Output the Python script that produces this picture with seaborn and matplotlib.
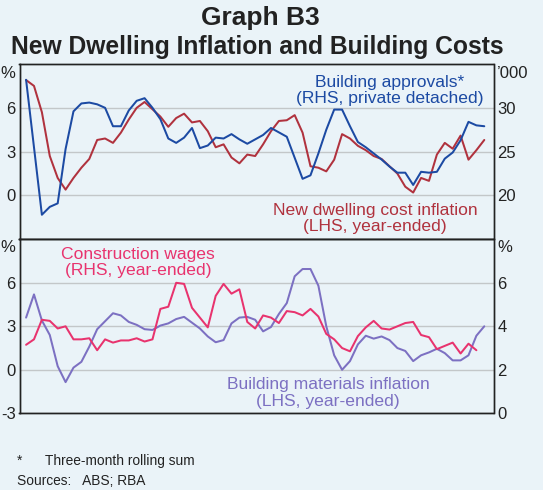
import numpy as np
import pandas as pd
import matplotlib
matplotlib.use("Agg")
import matplotlib.pyplot as plt
import seaborn as sns

# ---- data (quarterly, 2000Q1 to 2014Q3) ----
quarters = pd.period_range("2000Q1", "2014Q3", freq="Q")
# position each quarter at the middle of its final month
t = np.array([p.year + (3 * p.quarter - 0.5) / 12 for p in quarters])

# New dwelling cost inflation, % year-ended (LHS)
dwelling_cost = [7.9, 7.5, 5.7, 2.7, 1.2, 0.4, 1.2, 1.9, 2.5, 3.8,
                 3.9, 3.6, 4.3, 5.2, 6.0, 6.4, 5.9, 5.4, 4.7, 5.3,
                 5.6, 5.0, 5.1, 4.4, 3.3, 3.5, 2.6, 2.2, 2.8, 2.7,
                 3.5, 4.4, 5.1, 5.15, 5.5, 4.3, 2.0, 1.9, 1.65, 2.45,
                 4.2, 3.9, 3.4, 3.1, 2.7, 2.5, 2.0, 1.5, 0.6, 0.2,
                 1.2, 1.0, 2.8, 3.6, 3.2, 4.1, 2.45, 3.1, 3.8]

# Private detached building approvals, '000, three-month rolling sum (RHS)
approvals = [33.2, 25.5, 17.8, 18.7, 19.1, 25.3, 29.6, 30.5, 30.6, 30.4,
             30.0, 27.9, 27.9, 29.7, 30.8, 31.1, 30.0, 28.7, 26.5, 26.0,
             26.6, 27.7, 25.4, 25.7, 26.6, 26.5, 27.0, 26.4, 25.9, 26.4,
             26.9, 27.7, 27.2, 26.7, 24.3, 21.9, 22.3, 24.8, 27.5, 29.8,
             29.8, 27.9, 26.1, 25.5, 24.8, 24.1, 23.3, 22.6, 22.6, 21.2,
             22.7, 22.6, 22.7, 24.2, 24.9, 26.3, 28.4, 28.0, 27.9]

# Building materials inflation, % year-ended (LHS)
materials = [3.6, 5.2, 3.4, 2.4, 0.25, -0.85, 0.15, 0.55, 1.6, 2.8,
             3.35, 3.9, 3.75, 3.3, 3.1, 2.8, 2.75, 3.05, 3.2, 3.5,
             3.65, 3.25, 2.85, 2.3, 1.9, 2.05, 3.2, 3.6, 3.65, 3.45,
             2.65, 2.95, 3.85, 4.6, 6.45, 6.95, 6.95, 5.8, 3.0, 1.0,
             0.0, 0.6, 1.75, 2.35, 2.15, 2.3, 2.05, 1.5, 1.3, 0.6,
             1.0, 1.2, 1.45, 1.15, 0.65, 0.65, 1.0, 2.35, 3.0]

# Construction wages, % year-ended (RHS)
wages = [3.15, 3.4, 4.3, 4.25, 3.9, 4.0, 3.4, 3.4, 3.45, 2.9,
         3.4, 3.25, 3.35, 3.35, 3.45, 3.3, 3.4, 4.8, 4.9, 6.0,
         5.95, 4.85, 4.4, 3.95, 5.4, 5.95, 5.5, 5.7, 4.2, 3.9,
         4.5, 4.4, 4.15, 4.7, 4.65, 4.5, 4.8, 4.45, 3.65, 3.4,
         3.0, 2.85, 3.55, 3.95, 4.25, 3.9, 3.85, 4.0, 4.15, 4.2,
         3.6, 3.5, 2.95, 3.1, 3.25, 2.75, 3.2, 2.9]

top_df = pd.DataFrame({"date": t, "dwelling": dwelling_cost, "approvals": approvals})
bot_df = pd.DataFrame({"date": t, "materials": materials})
wage_df = pd.DataFrame({"date": t[:len(wages)], "wages": wages})

# ---- style ----
BG = "#eaf3f8"
GRID = "#c3c7c9"
C_RED = "#b0323e"
C_BLUE = "#1c4aa3"
C_PINK = "#e8336e"
C_PURPLE = "#7c70c2"
TXT = "#222222"

sns.set_theme(style="white")
plt.rcParams["font.family"] = ["Liberation Sans", "DejaVu Sans"]
plt.rcParams["axes.facecolor"] = BG
plt.rcParams["figure.facecolor"] = BG
plt.rcParams["axes.unicode_minus"] = False

fig = plt.figure(figsize=(5.43, 4.90), dpi=100)
W, H = 543, 490
x0, x1 = 19.5, 493.5
ax_top = fig.add_axes([x0 / W, 1 - 239.3 / H, (x1 - x0) / W, (239.3 - 64) / H])
ax_bot = fig.add_axes([x0 / W, 1 - 413.3 / H, (x1 - x0) / W, (413.3 - 239.3) / H])
ax_top_r = ax_top.twinx()
ax_bot_r = ax_bot.twinx()

LW = 1.45
sns.lineplot(data=top_df, x="date", y="dwelling", ax=ax_top, color=C_RED, lw=LW)
sns.lineplot(data=top_df, x="date", y="approvals", ax=ax_top_r, color=C_BLUE, lw=LW)
sns.lineplot(data=bot_df, x="date", y="materials", ax=ax_bot, color=C_PURPLE, lw=LW)
sns.lineplot(data=wage_df, x="date", y="wages", ax=ax_bot_r, color=C_PINK, lw=LW)

TICK_FS = 12
for ax in (ax_top, ax_bot, ax_top_r, ax_bot_r):
    ax.set_xlim(2000, 2015)
    ax.set_xlabel("")
    ax.set_ylabel("")
    for s in ax.spines.values():
        s.set_color("#222222")
        s.set_linewidth(1.0)

ax_top.set_ylim(-3, 9)
ax_top_r.set_ylim(15, 35)
ax_bot.set_ylim(-3, 9)
ax_bot_r.set_ylim(0, 8)

ax_top.set_yticks([0, 3, 6])
ax_top_r.set_yticks([20, 25, 30])
ax_bot.set_yticks([-3, 0, 3, 6])
ax_bot_r.set_yticks([0, 2, 4, 6])

for ax in (ax_top, ax_bot):
    ax.yaxis.grid(True, color=GRID, lw=1.0)
    ax.set_axisbelow(True)
for ax in (ax_top, ax_top_r, ax_bot, ax_bot_r):
    ax.tick_params(axis="y", length=0, labelsize=TICK_FS, colors=TXT, pad=2.8)
    ax.xaxis.grid(False)

# x axis: year-boundary ticks on bottom panel, labels centred within the year
ax_top.set_xticks([])
ax_top_r.set_xticks([])
label_years = [2002, 2006, 2010, 2014]
ax_bot.set_xticks([y + 0.5 for y in label_years])
ax_bot.set_xticklabels([str(y) for y in label_years])
ax_bot.set_xticks(np.arange(2001, 2015), minor=True)
ax_bot.tick_params(axis="x", which="major", length=0, labelsize=TICK_FS, colors=TXT, pad=5)
ax_bot.tick_params(axis="x", which="minor", direction="in", length=5, width=1, color="#222222")
ax_bot_r.set_xticks([])

# units
fig.text(8 / W, 1 - 73 / H, "%", ha="center", va="center", fontsize=TICK_FS, color=TXT)
fig.text(513 / W, 1 - 73 / H, "’000", ha="center", va="center", fontsize=TICK_FS, color=TXT)
fig.text(8 / W, 1 - 247 / H, "%", ha="center", va="center", fontsize=TICK_FS, color=TXT)
fig.text(505 / W, 1 - 247 / H, "%", ha="center", va="center", fontsize=TICK_FS, color=TXT)

# titles
fig.text(260 / W, 1 - 18 / H, "Graph B3", ha="center", va="center", fontsize=19,
         fontweight="bold", color=TXT)
fig.text(257 / W, 1 - 47 / H, "New Dwelling Inflation and Building Costs", ha="center",
         va="center", fontsize=17.7, fontweight="bold", color=TXT)

# series labels
ANN = 12.6
fig.text(390 / W, 1 - 82 / H, "Building approvals*", ha="center", va="center", fontsize=ANN, color=C_BLUE)
fig.text(390 / W, 1 - 99 / H, "(RHS, private detached)", ha="center", va="center", fontsize=ANN, color=C_BLUE)
fig.text(375 / W, 1 - 210 / H, "New dwelling cost inflation", ha="center", va="center", fontsize=ANN, color=C_RED)
fig.text(375 / W, 1 - 227 / H, "(LHS, year-ended)", ha="center", va="center", fontsize=ANN, color=C_RED)
fig.text(138 / W, 1 - 255 / H, "Construction wages", ha="center", va="center", fontsize=ANN, color=C_PINK)
fig.text(138 / W, 1 - 271 / H, "(RHS, year-ended)", ha="center", va="center", fontsize=ANN, color=C_PINK)
fig.text(328 / W, 1 - 384 / H, "Building materials inflation", ha="center", va="center", fontsize=ANN, color=C_PURPLE)
fig.text(328 / W, 1 - 401 / H, "(LHS, year-ended)", ha="center", va="center", fontsize=ANN, color=C_PURPLE)

# footnotes
FN = 9.9
fig.text(17 / W, 1 - 461 / H, "*", ha="left", va="center", fontsize=FN, color=TXT)
fig.text(45 / W, 1 - 461 / H, "Three-month rolling sum", ha="left", va="center", fontsize=FN, color=TXT)
fig.text(17 / W, 1 - 481 / H, "Sources:   ABS; RBA", ha="left", va="center", fontsize=FN, color=TXT)

fig.savefig("out.png", dpi=100, facecolor=BG)
